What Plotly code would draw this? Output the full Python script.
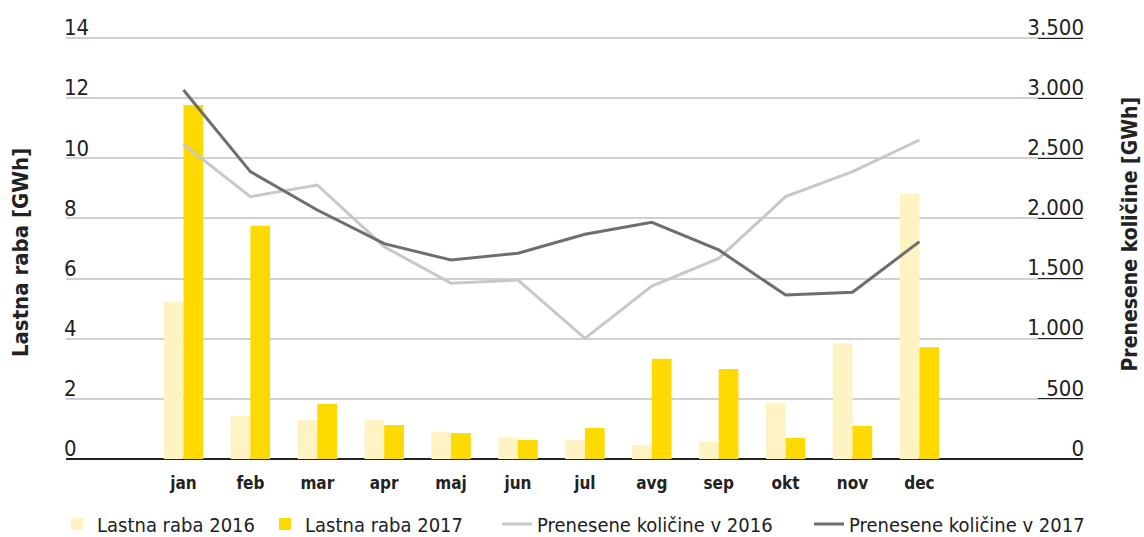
import plotly.graph_objects as go

months = ["jan", "feb", "mar", "apr", "maj", "jun", "jul", "avg", "sep", "okt", "nov", "dec"]
raba_2016 = [5.22, 1.43, 1.30, 1.30, 0.91, 0.71, 0.63, 0.47, 0.58, 1.87, 3.85, 8.81]
raba_2017 = [11.77, 7.76, 1.83, 1.13, 0.86, 0.63, 1.03, 3.33, 2.99, 0.70, 1.10, 3.72]
prenos_2016 = [2616, 2181, 2278, 1765, 1461, 1488, 1003, 1438, 1668, 2181, 2389, 2652]
prenos_2017 = [3068, 2389, 2070, 1790, 1654, 1710, 1868, 1968, 1738, 1363, 1386, 1807]

left_ticks = [0, 2, 4, 6, 8, 10, 12, 14]
right_ticks = [0, 500, 1000, 1500, 2000, 2500, 3000, 3500]
right_labels = ["0", "500", "1.000", "1.500", "2.000", "2.500", "3.000", "3.500"]

FONT = "DejaVu Sans Condensed, Liberation Sans Narrow, Roboto Condensed, sans-serif"
TXT = "#222222"

PX_PER_UNIT = 30.07
L_TOP = 14 + 38 / PX_PER_UNIT     # headroom above the 14 gridline for its label
L_BOT = -8 / PX_PER_UNIT          # small room below 0 so the "0" labels stay visible
R_TOP = 3500 * L_TOP / 14
R_BOT = 3500 * L_BOT / 14

fig = go.Figure()
fig.add_trace(go.Bar(x=months, y=raba_2016, name="Lastna raba 2016",
                     marker=dict(color="#FFF3C4", line=dict(width=0)), yaxis="y", legend="legend"))
fig.add_trace(go.Bar(x=months, y=raba_2017, name="Lastna raba 2017",
                     marker=dict(color="#FFDA00", line=dict(width=0)), yaxis="y", legend="legend2"))
fig.add_trace(go.Scatter(x=months, y=prenos_2016, name="Prenesene količine v 2016",
                         mode="lines", line=dict(color="#C8C8C8", width=3), yaxis="y2", legend="legend3"))
fig.add_trace(go.Scatter(x=months, y=prenos_2017, name="Prenesene količine v 2017",
                         mode="lines", line=dict(color="#6E6E6E", width=3), yaxis="y2", legend="legend4"))

LEG_Y = -0.122
def leg(x):
    return dict(orientation="h", x=x, xanchor="left", y=LEG_Y, yanchor="middle",
                font=dict(size=20, color=TXT, family=FONT), bgcolor="rgba(0,0,0,0)", borderwidth=0)

fig.update_layout(
    width=1144, height=537,
    margin=dict(l=66, r=61, t=0, b=70, autoexpand=False),
    paper_bgcolor="white", plot_bgcolor="white",
    font=dict(family=FONT, color=TXT, size=22),
    barmode="group", bargap=0.41, bargroupgap=0,
    showlegend=True,
    legend=leg(-0.00885),
    legend2=leg(0.1957),
    legend3=leg(0.4238),
    legend4=leg(0.7306),
    xaxis=dict(type="category", range=[-1.756, 13.445], showgrid=False,
               showline=False, ticks="", tickfont=dict(size=17, color=TXT), ticklabelstandoff=4,
               tickprefix="<b>", ticksuffix="</b>", zeroline=False),
    yaxis=dict(range=[L_BOT, L_TOP], tickvals=left_ticks, showgrid=True, gridcolor="#D0D0D0", gridwidth=1.5,
               zeroline=True, zerolinecolor="#222222", zerolinewidth=1.5, showline=False, ticks="",
               ticklabelposition="inside top", ticklabelstandoff=-5, ticklabelshift=5,
               tickfont=dict(size=22, color=TXT)),
    yaxis2=dict(range=[R_BOT, R_TOP], overlaying="y", side="right", tickvals=right_ticks, ticktext=right_labels,
                showgrid=False, zeroline=False, showline=False,
                ticks="inside", ticklen=45, tickcolor="#222222", tickwidth=1.3,
                ticklabelposition="inside top", ticklabelstandoff=-4, ticklabelshift=5,
                tickfont=dict(size=22, color=TXT)),
)

fig.add_annotation(text="<b>Lastna raba [GWh]</b>", textangle=-90, xref="paper", yref="paper",
                   x=-0.0453, y=0.460, xanchor="center", yanchor="middle", showarrow=False,
                   font=dict(size=22, color=TXT))
fig.add_annotation(text="<b>Prenesene količine [GWh]</b>", textangle=-90, xref="paper", yref="paper",
                   x=1.0462, y=0.500, xanchor="center", yanchor="middle", showarrow=False,
                   font=dict(size=21, color=TXT))

fig.write_html("out.html", config={"displayModeBar": False},
               post_script="document.body.style.margin='0';document.body.style.overflow='hidden';")
